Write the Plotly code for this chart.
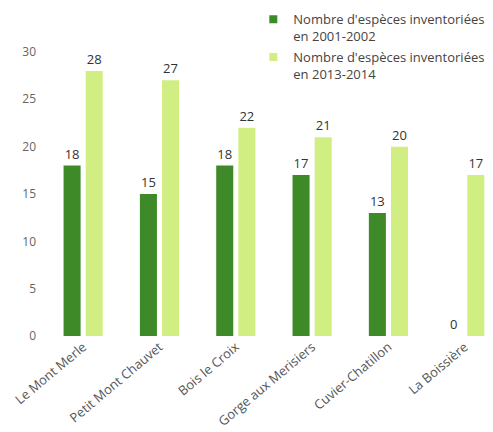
import plotly.graph_objects as go

sites = ["Le Mont Merle", "Petit Mont Chauvet", "Bois le Croix",
         "Gorge aux Merisiers", "Cuvier-Chatillon", "La Boissière"]
especes_2001 = [18, 15, 18, 17, 13, 0]
especes_2013 = [28, 27, 22, 21, 20, 17]
nom_2001 = "Nombre d'espèces inventoriées<br>en 2001-2002"
nom_2013 = "Nombre d'espèces inventoriées<br>en 2013-2014"
y_ticks = [0, 5, 10, 15, 20, 25, 30]

VERT_FONCE = "#3e8a28"
VERT_CLAIR = "#d0ee82"
FONT = "Open Sans, Noto Sans, sans-serif"

fig = go.Figure()
for valeurs, nom, couleur in [(especes_2001, nom_2001, VERT_FONCE),
                              (especes_2013, nom_2013, VERT_CLAIR)]:
    fig.add_trace(go.Bar(
        x=sites, y=valeurs, name=nom, legendgroup=nom, showlegend=False,
        marker=dict(color=couleur, line=dict(width=0)),
        text=valeurs, textposition="outside", cliponaxis=False,
        textfont=dict(size=13, color="#333333", family=FONT),
    ))
    # small square legend key
    fig.add_trace(go.Scatter(
        x=[None], y=[None], mode="markers", name=nom, legendgroup=nom,
        marker=dict(symbol="square", size=8, color=couleur),
    ))

fig.update_layout(
    template="plotly_white",
    width=493, height=432,
    margin=dict(l=45, r=0, t=33, b=96, autoexpand=False),
    paper_bgcolor="white", plot_bgcolor="white",
    barmode="group", bargap=0.42, bargroupgap=0.23,
    font=dict(family=FONT, size=12, color="#555555"),
    showlegend=True,
    legend=dict(
        x=0.465, y=1.095, xanchor="left", yanchor="top",
        font=dict(size=13, color="#444444", family=FONT),
        bgcolor="rgba(0,0,0,0)", itemwidth=30, tracegroupgap=1,
        valign="top",
    ),
    xaxis=dict(
        range=[-0.5, 5.37], tickangle=-40, automargin=False,
        showline=False, showgrid=False, ticks="",
        tickfont=dict(size=13, color="#555555"),
    ),
    yaxis=dict(
        range=[0, 32], tickvals=y_ticks, showgrid=False, zeroline=False,
        showline=False, ticks="", ticklabelstandoff=8, automargin=False,
        tickfont=dict(size=12, color="#666666"),
    ),
)

fig.write_html("out.html")
